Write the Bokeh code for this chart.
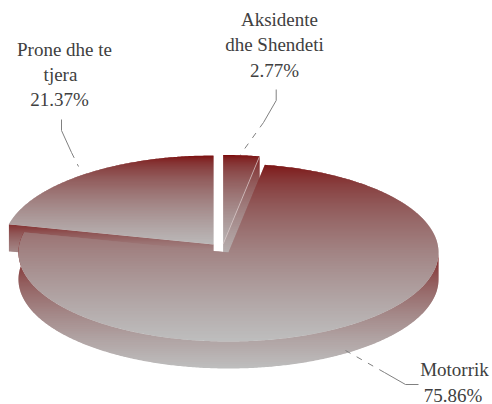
from bokeh.plotting import figure
from bokeh.models import Range1d
from bokeh.core.properties import value
from bokeh.embed import file_html
from bokeh.resources import INLINE
import numpy as np

categories = ["Motorrik", "Prone dhe te tjera", "Aksidente dhe Shendeti"]
shares = [75.86, 21.37, 2.77]
share_labels = ["75.86%", "21.37%", "2.77%"]

W, H = 492, 404
OX, OY = 0, 0
RX, RY, DEPTH = 210.0, 89.0, 27.0
CENTERS = {"Motorrik": (228.0, 252.0), "Prone dhe te tjera": (213.0, 244.0), "Aksidente dhe Shendeti": (222.7, 243.5)}
DARK = np.array([124, 6, 6.0])
LIGHT = np.array([190, 190, 190.0])

p = figure(width=W, height=H, output_backend="svg", toolbar_location=None,
           x_range=Range1d(OX, OX + W), y_range=Range1d(OY + H, OY),
           min_border=0, outline_line_color=None, background_fill_color="white", border_fill_color=None)
p.axis.visible = False
p.grid.visible = False


def ramp(t):
    t = min(max(t, 0.0), 1.0)
    tt = np.array([t ** 0.8, t ** 0.55, t ** 0.55])
    c = DARK + (LIGHT - DARK) * tt
    return "#%02x%02x%02x" % tuple(int(round(v)) for v in c)


def clip(poly, y, keep_below):
    out = []
    n = len(poly)
    for i in range(n):
        a, b = poly[i], poly[(i + 1) % n]
        ina = (a[1] >= y) if keep_below else (a[1] <= y)
        inb = (b[1] >= y) if keep_below else (b[1] <= y)
        if ina:
            out.append(a)
        if ina != inb:
            t = (y - a[1]) / (b[1] - a[1])
            out.append((a[0] + (b[0] - a[0]) * t, y))
    return out


def gradient(poly, y0, y1, alpha=1.0):
    ys = [q[1] for q in poly]
    xs_out, ys_out, cols = [], [], []
    y = np.floor(min(ys))
    bottom = max(ys)
    while y < bottom:
        band = clip(poly, y, True)
        band = clip(band, y + 1.6, False) if band else band
        if len(band) >= 3:
            xs_out.append([q[0] for q in band])
            ys_out.append([q[1] for q in band])
            cols.append(ramp((y + 0.5 - y0) / (y1 - y0)))
        y += 1.0
    p.patches(xs_out, ys_out, fill_color=cols, line_color=None)


def rim(c, a0, a1, dy=0.0):
    cx, cy = c
    out = []
    for a in np.radians(np.linspace(a0, a1, max(3, int(abs(a1 - a0)) * 2))):
        out.append((cx + RX * np.sin(a), cy - RY * np.cos(a) + dy))
    return out


# clockwise from 12 o'clock: Aksidente, Motorrik, Prone
ak = shares[2] * 3.6
mo = shares[0] * 3.6
a_ak = (0.0, ak)
a_mo = (ak, ak + mo)
a_pr = (ak + mo, 360.0)
cA, cM, cP = CENTERS["Aksidente dhe Shendeti"], CENTERS["Motorrik"], CENTERS["Prone dhe te tjera"]

# Prone wall along its cut edge
tipP = rim(cP, a_pr[0], a_pr[0], 0)[0]
gradient([tipP, cP, (cP[0], cP[1] + DEPTH), (tipP[0], tipP[1] + DEPTH)], cP[1] - RY + 65, cP[1] + DEPTH + 8)
# Aksidente wall
endA = rim(cA, a_ak[1], a_ak[1], 0)[0]
gradient([endA, cA, (cA[0], cA[1] + DEPTH), (endA[0], endA[1] + DEPTH)], cA[1] - RY, cA[1] + DEPTH)
# Tops
gradient([cP] + rim(cP, *a_pr), cP[1] - RY, cP[1] + 5)
gradient([cA] + rim(cA, *a_ak), cA[1] - RY, cA[1] + 10)
p.line([endA[0], cA[0]], [endA[1], cA[1]], line_color="#d8c8c8", line_width=1, line_alpha=0.7)
# Motorrik wall: front half of the rim
front = rim(cM, 90, a_mo[1])
wall = front + [(q[0], q[1] + DEPTH) for q in reversed(front)]
gradient(wall, cM[1], cM[1] + RY + DEPTH)
# Motorrik top
gradient([cM] + rim(cM, *a_mo), cM[1] - RY, cM[1] + RY)

# Leaders: solid part, dashed part
LEADER = "#808080"
solid_x = [[275.7, 275.7, 263], [61, 61, 71], [418, 405, 384]]
solid_y = [[89, 100, 122], [119, 130, 152], [384, 384, 372]]
dash_x = [[263, 240], [71, 78], [384, 345]]
dash_y = [[122, 154], [152, 166], [372, 350]]
p.multi_line(solid_x, solid_y, line_color=LEADER, line_width=1)
p.multi_line(dash_x, dash_y, line_color=LEADER, line_width=1, line_dash="6 7")

# Labels
label_text = ["Aksidente", "dhe Shendeti", share_labels[2], "Prone dhe te", "tjera", share_labels[1], "Motorrik", share_labels[0]]
label_x = [279, 274, 274, 64, 60, 59, 454, 452.5]
label_y = [18.5, 43.5, 69.5, 49, 74, 99, 369, 394.5]
p.text(label_x, label_y, text=label_text, text_font=value("Liberation Serif"), text_font_size="19px",
       text_color="#404040", text_align="center", text_baseline="alphabetic")

open("out.html", "w").write(file_html(p, INLINE))
